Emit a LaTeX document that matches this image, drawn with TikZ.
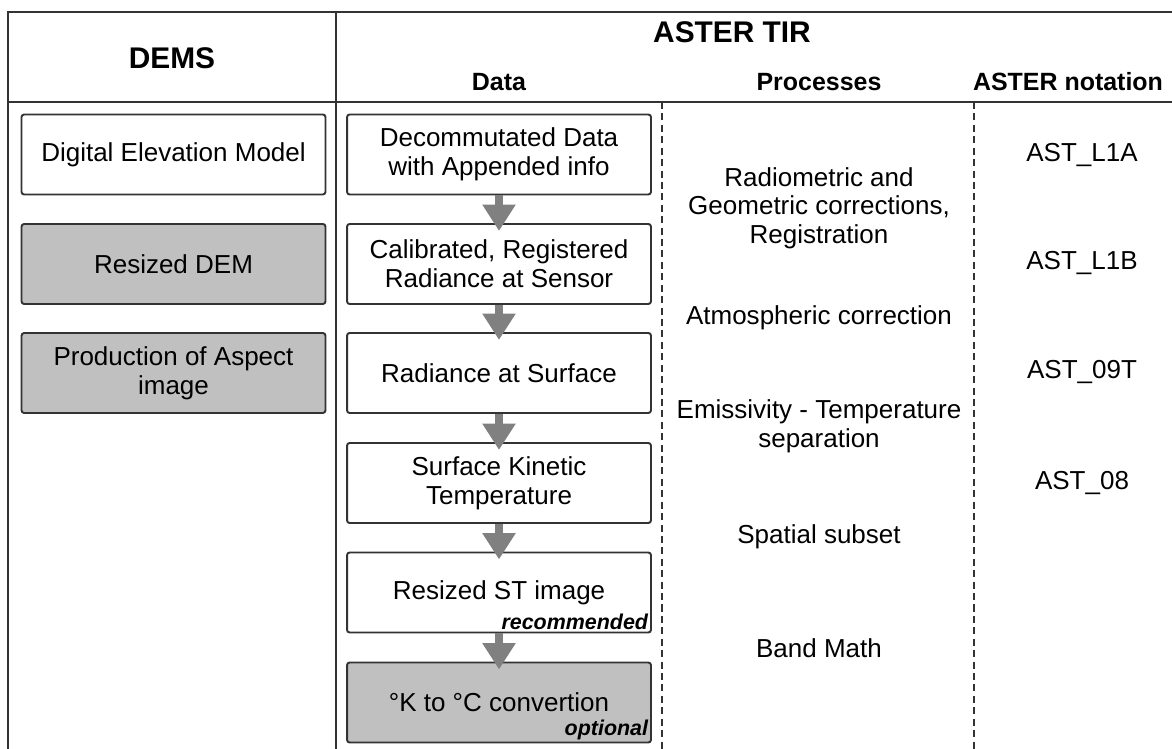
\documentclass[tikz,border=0pt]{standalone}
\usepackage{fontspec}
\setmainfont{Liberation Sans}
\usepackage{tikz}
\usetikzlibrary{arrows.meta, positioning}
\usepackage{xcolor}
\definecolor{framegray}{HTML}{333333}
\definecolor{boxgray}{HTML}{C0C0C0}
\definecolor{arrowgray}{HTML}{808080}

\begin{document}
\begin{tikzpicture}[
  x=0.02cm, y=-0.02cm,
  box/.style={
    draw=framegray, rounded corners=1.5pt, minimum width=6.08cm, minimum height=1.6cm,
    align=center, inner sep=0pt, line width=1.1pt,
    font=\fontsize{14.8}{16.3}\selectfont
  },
  graybox/.style={box, fill=boxgray},
  flow/.style={-{Triangle[width=18pt, length=15pt]}, line width=4.5pt, arrowgray, shorten >=-4.5pt},
  head/.style={font=\fontsize{17}{19}\selectfont\bfseries},
  subhead/.style={font=\fontsize{14.2}{16}\selectfont\bfseries},
  proc/.style={align=center, inner sep=0pt, font=\fontsize{14.8}{16.3}\selectfont},
  tag/.style={anchor=south east, inner sep=2pt, font=\fontsize{12.2}{14}\selectfont\bfseries\itshape},
  rule/.style={framegray, line width=1.1pt},
  sep/.style={framegray, line width=1.1pt, dash pattern=on 4pt off 2.5pt}
]
  \useasboundingbox (0,0) rectangle (1172,749);

  % Table frame
  \draw[rule] (1172,12) -- (8,12) -- (8,749);
  \draw[rule] (336,12) -- (336,749);
  \draw[rule] (8,102) -- (1172,102);
  \draw[sep] (662,102) -- (662,749);
  \draw[sep] (974,102) -- (974,749);

  % Headers
  \node[head] (dems) at (172,58) {DEMS};
  \node[head] (aster) at (732,32) {ASTER TIR};
  \node[subhead] (data) at (499,82) {Data};
  \node[subhead] (procs) at (819,82) {Processes};
  \node[subhead] (notation) at (1068,82) {ASTER notation};

  % DEMS column
  \node[box] (dem) at (173.5,154.5) {Digital Elevation Model};
  \node[graybox] (rdem) at (173.5,264) {Resized DEM};
  \node[graybox] (aspect) at (173.5,373) {Production of Aspect\\image};

  % Data column
  \node[box] (l1a) at (499,154.5) {Decommutated Data\\with Appended info};
  \node[box] (l1b) at (499,264) {Calibrated, Registered\\Radiance at Sensor};
  \node[box] (rsurf) at (499,373) {Radiance at Surface};
  \node[box] (skt) at (499,483) {Surface Kinetic\\Temperature};
  \node[box] (rst) at (499,592.5) {Resized ST image};
  \node[graybox] (conv) at (499,702.5) {°K to °C convertion};
  \node[tag] (rec) at (rst.south east) {recommended};
  \node[tag] (opt) at (conv.south east) {optional};

  % Arrows between data steps
  \draw[flow] (l1a) -- (l1b);
  \draw[flow] (l1b) -- (rsurf);
  \draw[flow] (rsurf) -- (skt);
  \draw[flow] (skt) -- (rst);
  \draw[flow] (rst) -- (conv);

  % Processes column
  \node[proc] (radio) at (819,208) {Radiometric and\\Geometric corrections,\\Registration};
  \node[proc] (atmo) at (819,318) {Atmospheric correction};
  \node[proc] (tes) at (819,426) {Emissivity - Temperature\\separation};
  \node[proc] (subset) at (819,537) {Spatial subset};
  \node[proc] (bmath) at (819,648) {Band Math};

  % ASTER notation column
  \node[proc] (n1a) at (1082,155) {AST\_L1A};
  \node[proc] (n1b) at (1082,263) {AST\_L1B};
  \node[proc] (n09t) at (1082,372) {AST\_09T};
  \node[proc] (n08) at (1082,483) {AST\_08};
\end{tikzpicture}
\end{document}
